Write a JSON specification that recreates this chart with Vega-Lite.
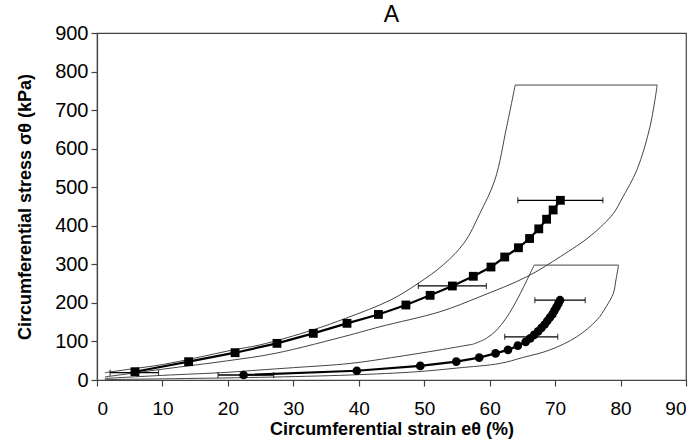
{
  "$schema": "https://vega.github.io/schema/vega-lite/v6.json",
  "autosize": "none",
  "width": 589,
  "height": 347,
  "padding": {"left": 97, "top": 33, "right": 13, "bottom": 60},
  "background": "white",
  "title": {"text": "A", "fontSize": 23, "fontWeight": "normal", "font": "Liberation Sans", "color": "black", "offset": -4},
  "config": {
    "view": {"stroke": "#444", "strokeWidth": 1.2},
    "axis": {
      "grid": false,
      "labelFont": "Liberation Sans",
      "labelFontSize": 19,
      "labelColor": "black",
      "labelOverlap": false,
      "titleFont": "Liberation Sans",
      "titleFontSize": 18,
      "titleFontWeight": "bold",
      "titleColor": "black",
      "domainColor": "#444",
      "domainWidth": 1.2,
      "tickColor": "#444",
      "tickWidth": 1.2,
      "tickSize": 6
    },
    "axisX": {"tickCount": 10, "labelPadding": 13, "titlePadding": 2},
    "axisY": {"tickCount": 10, "labelPadding": 3, "labelFontSize": 20, "titlePadding": 20}
  },
  "datasets": {
    "env": [
      {"env": "U1", "i": 1, "x": 1.2, "y": 19},
      {"env": "U1", "i": 2, "x": 5, "y": 28},
      {"env": "U1", "i": 3, "x": 10, "y": 40},
      {"env": "U1", "i": 4, "x": 15, "y": 57},
      {"env": "U1", "i": 5, "x": 20.8, "y": 78},
      {"env": "U1", "i": 6, "x": 24.9, "y": 91},
      {"env": "U1", "i": 7, "x": 33, "y": 130},
      {"env": "U1", "i": 8, "x": 38, "y": 160},
      {"env": "U1", "i": 9, "x": 44.8, "y": 207},
      {"env": "U1", "i": 10, "x": 49.1, "y": 251},
      {"env": "U1", "i": 11, "x": 53, "y": 300},
      {"env": "U1", "i": 12, "x": 56.2, "y": 358},
      {"env": "U1", "i": 13, "x": 58.5, "y": 432},
      {"env": "U1", "i": 14, "x": 60.8, "y": 519},
      {"env": "U1", "i": 15, "x": 62.6, "y": 657},
      {"env": "U1", "i": 16, "x": 63.9, "y": 765},
      {"env": "U2", "i": 1, "x": 63.9, "y": 765},
      {"env": "U2", "i": 2, "x": 85.6, "y": 765},
      {"env": "U3", "i": 1, "x": 85.6, "y": 765},
      {"env": "U3", "i": 2, "x": 84.5, "y": 657},
      {"env": "U3", "i": 3, "x": 82.5, "y": 545},
      {"env": "U3", "i": 4, "x": 80.2, "y": 470},
      {"env": "U3", "i": 5, "x": 78.9, "y": 432},
      {"env": "U3", "i": 6, "x": 75.5, "y": 375},
      {"env": "U3", "i": 7, "x": 70.8, "y": 320},
      {"env": "U3", "i": 8, "x": 65.7, "y": 268},
      {"env": "U3", "i": 9, "x": 58.5, "y": 216},
      {"env": "U3", "i": 10, "x": 52.4, "y": 177},
      {"env": "U3", "i": 11, "x": 43.2, "y": 138},
      {"env": "U3", "i": 12, "x": 38.7, "y": 117},
      {"env": "U3", "i": 13, "x": 27.2, "y": 69},
      {"env": "U3", "i": 14, "x": 20, "y": 50},
      {"env": "U3", "i": 15, "x": 10, "y": 28},
      {"env": "U3", "i": 16, "x": 1.2, "y": 8},
      {"env": "L1", "i": 1, "x": 1.2, "y": 4},
      {"env": "L1", "i": 2, "x": 10, "y": 12},
      {"env": "L1", "i": 3, "x": 20, "y": 20},
      {"env": "L1", "i": 4, "x": 24.9, "y": 26},
      {"env": "L1", "i": 5, "x": 30, "y": 32},
      {"env": "L1", "i": 6, "x": 38.7, "y": 43},
      {"env": "L1", "i": 7, "x": 45, "y": 58},
      {"env": "L1", "i": 8, "x": 52.4, "y": 78},
      {"env": "L1", "i": 9, "x": 57.5, "y": 93},
      {"env": "L2", "i": 1, "x": 57.5, "y": 93},
      {"env": "L2", "i": 2, "x": 59.5, "y": 108},
      {"env": "L2", "i": 3, "x": 61.1, "y": 130},
      {"env": "L2", "i": 4, "x": 62.5, "y": 160},
      {"env": "L2", "i": 5, "x": 63.6, "y": 190},
      {"env": "L2", "i": 6, "x": 64.7, "y": 225},
      {"env": "L2", "i": 7, "x": 65.7, "y": 259},
      {"env": "L2", "i": 8, "x": 66.8, "y": 298},
      {"env": "L3", "i": 1, "x": 66.8, "y": 298},
      {"env": "L3", "i": 2, "x": 79.7, "y": 298},
      {"env": "L4", "i": 1, "x": 79.7, "y": 298},
      {"env": "L4", "i": 2, "x": 79.3, "y": 260},
      {"env": "L4", "i": 3, "x": 78.9, "y": 225},
      {"env": "L4", "i": 4, "x": 77.8, "y": 190},
      {"env": "L4", "i": 5, "x": 76.4, "y": 156},
      {"env": "L4", "i": 6, "x": 73.3, "y": 112},
      {"env": "L4", "i": 7, "x": 69.2, "y": 78},
      {"env": "L4", "i": 8, "x": 65, "y": 58},
      {"env": "L4", "i": 9, "x": 61.6, "y": 43},
      {"env": "L4", "i": 10, "x": 55, "y": 31},
      {"env": "L4", "i": 11, "x": 48.9, "y": 21.5},
      {"env": "L4", "i": 12, "x": 38.7, "y": 13},
      {"env": "L4", "i": 13, "x": 25, "y": 7},
      {"env": "L4", "i": 14, "x": 10, "y": 3},
      {"env": "L4", "i": 15, "x": 1.2, "y": 1}
    ],
    "sq": [
      {"x": 5.8, "y": 21.5}, {"x": 14, "y": 47.5}, {"x": 21.1, "y": 70.8}, {"x": 27.5, "y": 95},
      {"x": 33.05, "y": 121}, {"x": 38.2, "y": 147}, {"x": 43, "y": 170}, {"x": 47.2, "y": 194.5},
      {"x": 50.9, "y": 219.6}, {"x": 54.3, "y": 243.8}, {"x": 57.5, "y": 269}, {"x": 60.2, "y": 293},
      {"x": 62.3, "y": 319}, {"x": 64.4, "y": 343}, {"x": 66.1, "y": 367}, {"x": 67.5, "y": 392},
      {"x": 68.7, "y": 417}, {"x": 69.7, "y": 441}, {"x": 70.8, "y": 466}
    ],
    "ci": [
      {"x": 22.4, "y": 13}, {"x": 39.7, "y": 24}, {"x": 49.4, "y": 36.5}, {"x": 54.9, "y": 47.5},
      {"x": 58.4, "y": 58}, {"x": 60.9, "y": 69}, {"x": 62.8, "y": 78}, {"x": 64.3, "y": 89},
      {"x": 65.5, "y": 99}, {"x": 66.2, "y": 108}, {"x": 66.8, "y": 117}, {"x": 67.4, "y": 126},
      {"x": 67.9, "y": 135}, {"x": 68.4, "y": 144}, {"x": 68.8, "y": 153}, {"x": 69.2, "y": 162},
      {"x": 69.6, "y": 171}, {"x": 69.9, "y": 180}, {"x": 70.2, "y": 189}, {"x": 70.5, "y": 198},
      {"x": 70.75, "y": 207}
    ],
    "err": [
      {"lo": 2.0, "hi": 9.4, "y": 19},
      {"lo": 49.1, "hi": 59.5, "y": 244},
      {"lo": 64.3, "hi": 77.3, "y": 466},
      {"lo": 18.5, "hi": 27, "y": 13},
      {"lo": 62.3, "hi": 70.4, "y": 112},
      {"lo": 66.9, "hi": 74.6, "y": 207}
    ]
  },
  "layer": [
    {
      "data": {"name": "env"},
      "mark": {"type": "line", "stroke": "#444", "strokeWidth": 1, "clip": true, "interpolate": "catmull-rom"},
      "encoding": {
        "x": {"field": "x", "type": "quantitative", "scale": {"domain": [0, 90], "nice": false}, "title": "Circumferential strain eθ (%)"},
        "y": {"field": "y", "type": "quantitative", "scale": {"domain": [0, 900], "nice": false}, "title": "Circumferential stress σθ (kPa)"},
        "detail": {"field": "env"},
        "order": {"field": "i", "type": "quantitative"}
      }
    },
    {
      "data": {"name": "err"},
      "mark": {"type": "rule", "color": "black", "strokeWidth": 1.3},
      "encoding": {
        "x": {"field": "lo", "type": "quantitative"},
        "x2": {"field": "hi"},
        "y": {"field": "y", "type": "quantitative"}
      }
    },
    {
      "data": {"name": "err"},
      "mark": {"type": "tick", "orient": "vertical", "color": "black", "size": 6, "thickness": 1.2},
      "encoding": {
        "x": {"field": "lo", "type": "quantitative"},
        "y": {"field": "y", "type": "quantitative"}
      }
    },
    {
      "data": {"name": "err"},
      "mark": {"type": "tick", "orient": "vertical", "color": "black", "size": 6, "thickness": 1.2},
      "encoding": {
        "x": {"field": "hi", "type": "quantitative"},
        "y": {"field": "y", "type": "quantitative"}
      }
    },
    {
      "data": {"name": "sq"},
      "mark": {"type": "line", "color": "black", "strokeWidth": 2.2},
      "encoding": {
        "x": {"field": "x", "type": "quantitative"},
        "y": {"field": "y", "type": "quantitative"}
      }
    },
    {
      "data": {"name": "sq"},
      "mark": {"type": "point", "shape": "square", "filled": true, "color": "black", "opacity": 1, "size": 78},
      "encoding": {
        "x": {"field": "x", "type": "quantitative"},
        "y": {"field": "y", "type": "quantitative"}
      }
    },
    {
      "data": {"name": "ci"},
      "mark": {"type": "line", "color": "black", "strokeWidth": 2.2},
      "encoding": {
        "x": {"field": "x", "type": "quantitative"},
        "y": {"field": "y", "type": "quantitative"}
      }
    },
    {
      "data": {"name": "ci"},
      "mark": {"type": "point", "shape": "circle", "filled": true, "color": "black", "opacity": 1, "size": 75},
      "encoding": {
        "x": {"field": "x", "type": "quantitative"},
        "y": {"field": "y", "type": "quantitative"}
      }
    }
  ]
}
